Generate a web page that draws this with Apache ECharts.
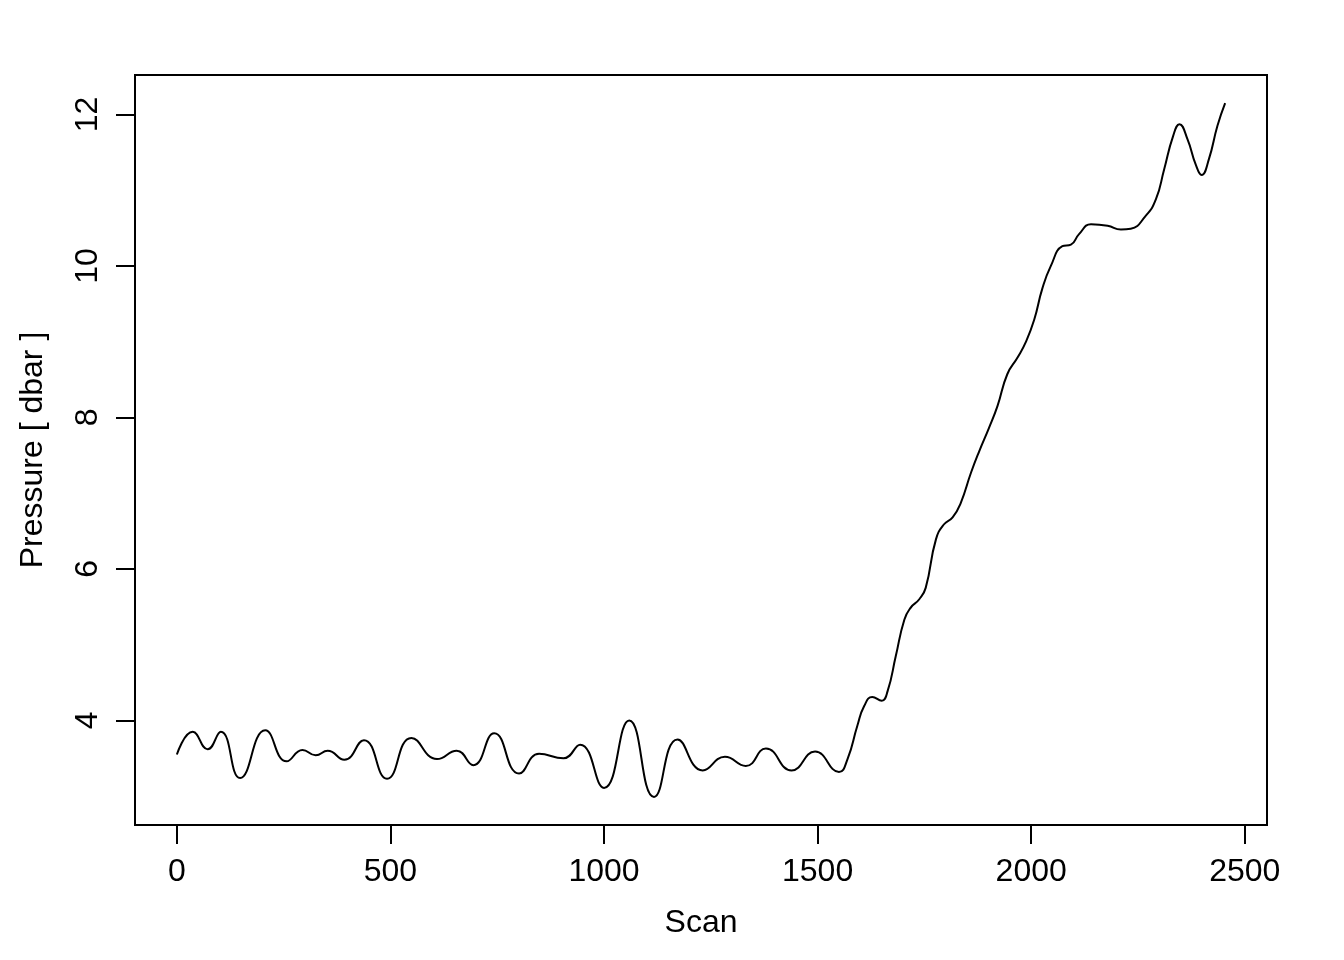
<!DOCTYPE html>
<html>
<head>
<meta charset="utf-8">
<title>Pressure vs Scan</title>
<script src="https://cdn.jsdelivr.net/npm/echarts@6/dist/echarts.min.js"></script>
<style>
    html, body { margin: 0; padding: 0; background: #fff; }
    #chart { width: 1344px; height: 960px; }
</style>
</head>
<body>
<div id="chart"></div>
<script>
// scan number and pressure
const scans = [0, 37, 72, 103, 148, 207, 257, 294, 325, 353, 392, 438, 492, 549, 609, 655, 694, 743, 801, 848,
    905, 944, 1000, 1059, 1117, 1172, 1231, 1283, 1332, 1379, 1439, 1494, 1550, 1570, 1593, 1609, 1628, 1650, 1664, 1683,
    1703, 1718, 1738, 1753, 1777, 1796, 1816, 1835, 1859, 1878, 1901, 1921, 1944, 1968, 1987, 2007, 2026, 2046, 2073, 2093,
    2112, 2140, 2179, 2210, 2233, 2268, 2292, 2311, 2332, 2347, 2366, 2385, 2399, 2416, 2436, 2454]
const pressure = [3.55, 3.85, 3.62, 3.85, 3.24, 3.87, 3.46, 3.61, 3.54, 3.60, 3.48, 3.74, 3.23, 3.77, 3.49, 3.60, 3.41, 3.83, 3.30, 3.56,
    3.50, 3.68, 3.11, 4.00, 2.99, 3.75, 3.34, 3.52, 3.40, 3.63, 3.34, 3.59, 3.32, 3.49, 3.93, 4.19, 4.31, 4.26, 4.39, 4.85,
    5.33, 5.49, 5.60, 5.75, 6.39, 6.59, 6.68, 6.87, 7.27, 7.55, 7.86, 8.15, 8.57, 8.79, 8.99, 9.29, 9.70, 10.00, 10.26, 10.28,
    10.42, 10.55, 10.53, 10.48, 10.49, 10.66, 10.88, 11.27, 11.71, 11.87, 11.67, 11.34, 11.20, 11.41, 11.85, 12.15]
const xTicks = [0, 500, 1000, 1500, 2000, 2500]
const yTicks = [4, 6, 8, 10, 12]

let points = scans.map((s, i) => [s, pressure[i]])

let myChart = echarts.init(document.getElementById('chart'), null, {renderer: 'canvas'})
const font = 'Liberation Sans, Arial, sans-serif'

let option = {
    animation: false,
    backgroundColor: '#fff',
    grid: {
        left: 135,
        right: 77,
        top: 75,
        bottom: 135,
        show: true,
        borderColor: '#000',
        borderWidth: 2,
        backgroundColor: 'transparent'
    },
    xAxis: {
        type: 'value',
        min: -98,  // R pads the range by 4%
        max: 2552,
        name: 'Scan',
        nameLocation: 'middle',
        nameGap: 82,
        nameTextStyle: {color: '#000', fontSize: 32, fontFamily: font},
        axisLine: {show: false, onZero: false},
        splitLine: {show: false},
        axisTick: {
            show: true,
            inside: false,
            length: 19,
            customValues: xTicks,
            lineStyle: {color: '#000', width: 2}
        },
        axisLabel: {
            show: true,
            margin: 31,
            customValues: xTicks,
            formatter: v => String(v),
            color: '#000',
            fontSize: 32,
            fontFamily: font
        }
    },
    yAxis: {
        type: 'value',
        min: 2.62,
        max: 12.52,
        name: 'Pressure [ dbar ]',
        nameLocation: 'middle',
        nameGap: 86,
        nameTextStyle: {color: '#000', fontSize: 32, fontFamily: font},
        axisLine: {show: false, onZero: false},
        splitLine: {show: false},
        axisTick: {
            show: true,
            inside: false,
            length: 19,
            customValues: yTicks,
            lineStyle: {color: '#000', width: 2}
        },
        axisLabel: {
            show: true,
            rotate: 90,
            margin: 31,
            customValues: yTicks,
            formatter: v => String(v),
            color: '#000',
            fontSize: 32,
            fontFamily: font
        }
    },
    series: [
        {
            name: 'pressure',
            type: 'line',
            data: points,
            smooth: 0.5,
            showSymbol: false,
            lineStyle: {color: '#000', width: 2}
        }
    ]
}
myChart.setOption(option)
</script>
</body>
</html>
